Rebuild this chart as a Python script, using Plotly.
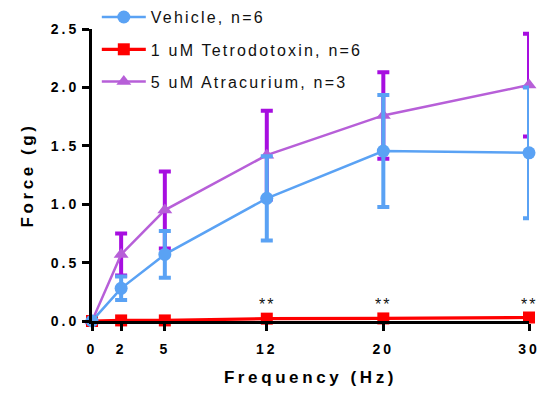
import plotly.graph_objects as go

freq = [0, 2, 5, 12, 20, 30]
vehicle_mean = [0.0, 0.28, 0.57, 1.05, 1.455, 1.44]
vehicle_err = [0.0, 0.10, 0.20, 0.36, 0.48, 0.56]
ttx_mean = [0.0, 0.005, 0.005, 0.02, 0.022, 0.03]
atr_mean = [0.0, 0.57, 0.95, 1.42, 1.76, 2.02]
atr_err = [0.0, 0.18, 0.33, 0.38, 0.37, 0.44]
star_freq = [12, 20, 30]
star_text = ["**", "**", "**"]
xtick_vals = [0, 2, 5, 12, 20, 30]
ytick_vals = [0, 0.5, 1.0, 1.5, 2.0, 2.5]
ytick_text = ["0.0", "0.5", "1.0", "1.5", "2.0", "2.5"]

BLUE = "#5AA2F4"
RED = "#FF0000"
PURPLE_LINE = "#B75FD8"
PURPLE_ERR = "#A70EE0"

fig = go.Figure()

fig.add_trace(go.Scatter(
    x=freq, y=atr_mean, mode="lines+markers", name="5 uM Atracurium, n=3",
    line=dict(color=PURPLE_LINE, width=2.5),
    marker=dict(symbol="triangle-up", size=13, color=PURPLE_LINE),
    error_y=dict(type="data", array=atr_err, color=PURPLE_ERR, thickness=4, width=6),
    cliponaxis=False, legendgroup="c", legendrank=3,
))
fig.add_trace(go.Scatter(
    x=freq, y=ttx_mean, mode="lines+markers", name="1 uM Tetrodotoxin, n=6",
    line=dict(color=RED, width=3.2),
    marker=dict(symbol="square", size=12, color=RED),
    cliponaxis=False, legendgroup="b", legendrank=2,
))
fig.add_trace(go.Scatter(
    x=freq, y=vehicle_mean, mode="lines+markers", name="Vehicle, n=6",
    line=dict(color=BLUE, width=2.5),
    marker=dict(symbol="circle", size=13, color=BLUE),
    error_y=dict(type="data", array=vehicle_err, color=BLUE, thickness=4, width=6),
    cliponaxis=False, legendgroup="a", legendrank=1,
))

for xf, t in zip(star_freq, star_text):
    fig.add_annotation(x=xf, y=0.05, xref="x", yref="y", text=t, showarrow=False,
                       yanchor="bottom", font=dict(size=16, color="#111"))

fig.update_layout(
    width=552, height=393,
    margin=dict(l=92, r=23, t=29, b=72, autoexpand=False),
    paper_bgcolor="white", plot_bgcolor="white",
    font=dict(family="Arial, Liberation Sans, sans-serif", color="black"),
    showlegend=True,
    legend=dict(x=0.011, y=1.099, xanchor="left", yanchor="top",
                traceorder="grouped", tracegroupgap=8.5, itemwidth=44,
                font=dict(size=16, color="#111"), bgcolor="rgba(0,0,0,0)"),
    xaxis=dict(range=[0, 30], tickvals=xtick_vals, showline=True, linecolor="black",
               linewidth=3, ticks="outside", ticklen=7, tickwidth=2.5, tickcolor="black",
               showgrid=False, zeroline=False, ticklabelstandoff=6,
               tickfont=dict(size=14, weight="bold"),
               title=dict(text="Frequency (Hz)", font=dict(size=17, weight="bold"), standoff=16)),
    yaxis=dict(range=[0, 2.5], tickvals=ytick_vals, ticktext=ytick_text, showline=True,
               linecolor="black", linewidth=3, ticks="outside", ticklen=7, tickwidth=2.5,
               tickcolor="black", showgrid=False, zeroline=False,
               tickfont=dict(size=14, weight="bold"),
               title=dict(text="Force (g)", font=dict(size=17, weight="bold"), standoff=22)),
)

post = """
document.body.style.margin='0';
document.body.style.padding='0';
var gd = document.getElementById('{plot_id}');
function ls(){
  gd.querySelectorAll('.legendtext').forEach(function(e){e.style.letterSpacing='2.2px';});
  gd.querySelectorAll('.legend .scrollbox').forEach(function(e){e.removeAttribute('clip-path');});
  gd.querySelectorAll('.xtick text, .ytick text').forEach(function(e){e.style.letterSpacing='3px';});
  gd.querySelectorAll('.g-xtitle text, .g-ytitle text').forEach(function(e){e.style.letterSpacing='3.6px';});
  gd.querySelectorAll('.annotation-text').forEach(function(e){e.style.letterSpacing='2px';});
}
ls();
gd.on('plotly_afterplot', ls);
"""

fig.write_html("out.html", post_script=post, config={"displayModeBar": False})
